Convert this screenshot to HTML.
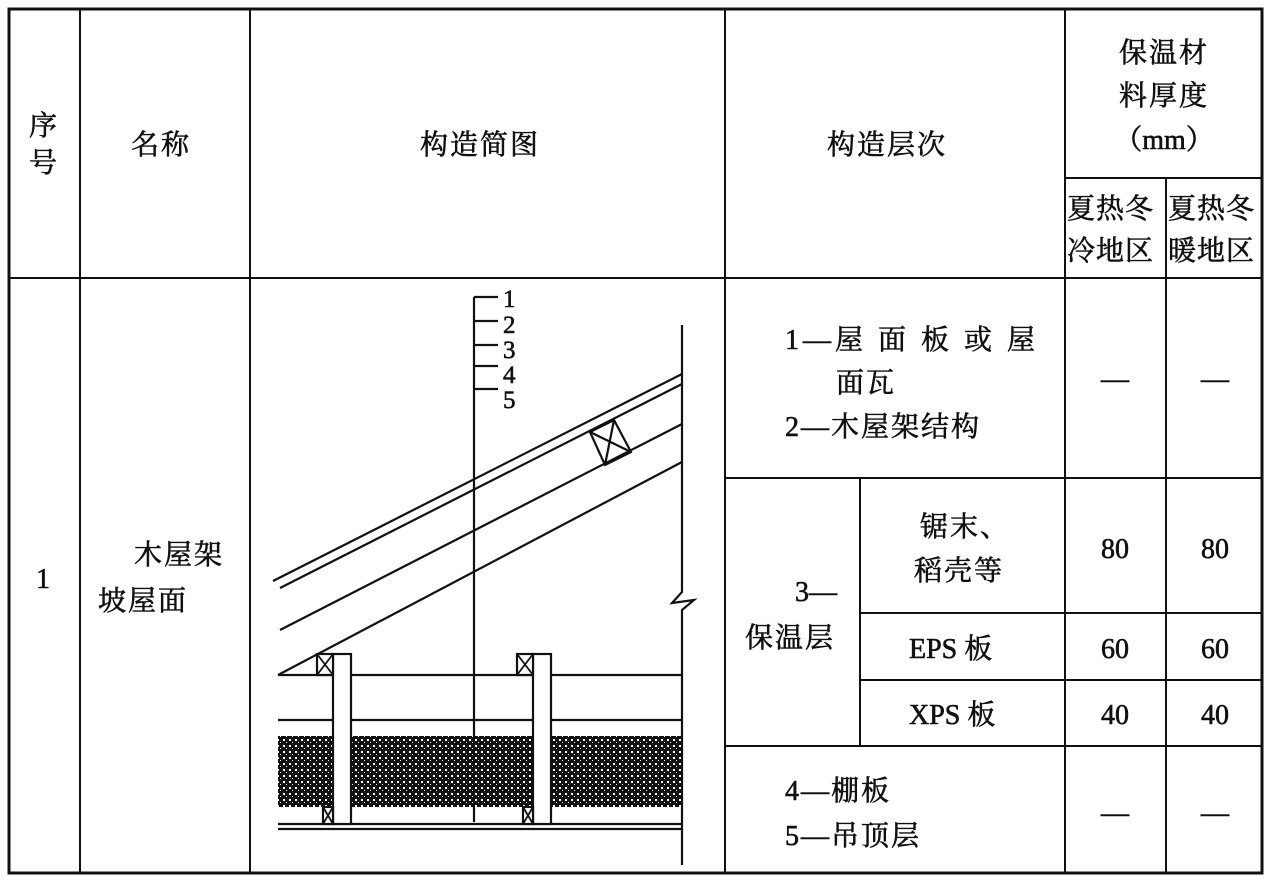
<!DOCTYPE html>
<html><head><meta charset="utf-8"><style>
html,body{margin:0;padding:0;background:#fff;}
svg{display:block;}
text{font-family:"Liberation Serif","Noto Serif CJK SC",serif;font-size:28px;fill:#111;stroke:#111;stroke-width:0.6;}
.n{font-family:"Liberation Serif",serif;}
</style></head><body>
<svg width="1276" height="885" viewBox="0 0 1276 885" xmlns="http://www.w3.org/2000/svg">
<defs>
<pattern id="dots" width="6" height="6" patternUnits="userSpaceOnUse">
<rect width="6" height="6" fill="#111"/>
<rect x="1" y="1" width="2" height="2" fill="#fff"/>
<rect x="4" y="4" width="1" height="1" fill="#fff"/>
</pattern>
</defs>
<g stroke="#111" fill="none">
<rect x="9" y="9" width="1253" height="864" stroke-width="3"/>
<g stroke-width="2">
<line x1="80" y1="9" x2="80" y2="873"/>
<line x1="250" y1="9" x2="250" y2="873"/>
<line x1="725" y1="9" x2="725" y2="873"/>
<line x1="1065" y1="9" x2="1065" y2="873"/>
<line x1="1166" y1="178" x2="1166" y2="873"/>
<line x1="1065" y1="178" x2="1262" y2="178"/>
<line x1="9" y1="278" x2="1262" y2="278"/>
<line x1="725" y1="478" x2="1262" y2="478"/>
<line x1="860" y1="613" x2="1262" y2="613"/>
<line x1="860" y1="680" x2="1262" y2="680"/>
<line x1="725" y1="746" x2="1262" y2="746"/>
<line x1="860" y1="478" x2="860" y2="746"/>
</g>
<g stroke-width="2.2">
<line x1="474" y1="297" x2="474" y2="822"/>
<line x1="474" y1="297" x2="498" y2="297"/>
<line x1="474" y1="321" x2="498" y2="321"/>
<line x1="474" y1="345" x2="498" y2="345"/>
<line x1="474" y1="366" x2="498" y2="366"/>
<line x1="474" y1="389" x2="498" y2="389"/>
<polyline points="682,325 682,592 672,603 694,600 682,610 682,865"/>
<line x1="273" y1="581" x2="682" y2="374"/>
<line x1="280" y1="588" x2="682" y2="384"/>
<line x1="280" y1="630" x2="682" y2="424"/>
<line x1="278" y1="675" x2="682" y2="462"/>
<line x1="278" y1="675" x2="682" y2="675"/>
<line x1="278" y1="720" x2="682" y2="720"/>
<line x1="278" y1="824" x2="682" y2="824"/>
<line x1="278" y1="829" x2="682" y2="829"/>
<polygon points="590,432 614,420 631,452 605,465"/>
<line x1="590" y1="432" x2="631" y2="452"/>
<line x1="614" y1="420" x2="605" y2="465"/>
</g>
<rect x="278" y="736" width="404" height="71" fill="url(#dots)" stroke="none"/>
<g stroke-width="2.2" fill="#fff">
<rect x="333" y="654" width="18" height="170"/>
<rect x="533" y="654" width="18" height="170"/>
<rect x="317" y="654" width="16" height="21"/>
<rect x="517" y="654" width="16" height="21"/>
<rect x="323" y="807" width="10" height="17"/>
<rect x="523" y="807" width="10" height="17"/>
</g>
<g stroke-width="1.8">
<line x1="317" y1="654" x2="333" y2="675"/><line x1="333" y1="654" x2="317" y2="675"/>
<line x1="517" y1="654" x2="533" y2="675"/><line x1="533" y1="654" x2="517" y2="675"/>
<line x1="323" y1="807" x2="333" y2="824"/><line x1="333" y1="807" x2="323" y2="824"/>
<line x1="523" y1="807" x2="533" y2="824"/><line x1="533" y1="807" x2="523" y2="824"/>
</g>
</g>
<text class="n" x="503" y="307" style="font-size:25px">1</text>
<text class="n" x="503" y="333" style="font-size:25px">2</text>
<text class="n" x="503" y="358" style="font-size:25px">3</text>
<text class="n" x="503" y="383" style="font-size:25px">4</text>
<text class="n" x="503" y="408" style="font-size:25px">5</text>
<text x="29" y="135">序</text>
<text x="29" y="172">号</text>
<text x="131" y="154" letter-spacing="2">名称</text>
<text x="420" y="154" letter-spacing="2">构造简图</text>
<text x="827" y="154" letter-spacing="2">构造层次</text>
<text x="1164" y="62" text-anchor="middle" letter-spacing="2">保温材</text>
<text x="1164" y="105" text-anchor="middle" letter-spacing="2">料厚度</text>
<text x="1164" y="149" text-anchor="middle">（mm）</text>
<text x="1067" y="218" letter-spacing="1">夏热冬</text>
<text x="1067" y="260" letter-spacing="1">冷地区</text>
<text x="1168" y="218" letter-spacing="1">夏热冬</text>
<text x="1168" y="260" letter-spacing="1">暖地区</text>
<text class="n" x="36" y="588">1</text>
<text x="134" y="564" letter-spacing="2">木屋架</text>
<text x="98" y="610" letter-spacing="2">坡屋面</text>
<text x="785" y="349" letter-spacing="4">1—屋 面 板 或 屋</text>
<text x="836" y="392" letter-spacing="2">面瓦</text>
<text x="785" y="436" letter-spacing="2">2—木屋架结构</text>
<text x="795" y="601">3—</text>
<text x="745" y="647" letter-spacing="2">保温层</text>
<text x="920" y="536" letter-spacing="2">锯末、</text>
<text x="914" y="580" letter-spacing="2">稻壳等</text>
<text x="909" y="658">EPS 板</text>
<text x="909" y="724">XPS 板</text>
<text class="n" x="1115" y="558" text-anchor="middle">80</text>
<text class="n" x="1215" y="558" text-anchor="middle">80</text>
<text class="n" x="1115" y="658" text-anchor="middle">60</text>
<text class="n" x="1215" y="658" text-anchor="middle">60</text>
<text class="n" x="1115" y="724" text-anchor="middle">40</text>
<text class="n" x="1215" y="724" text-anchor="middle">40</text>
<text x="1115" y="388" text-anchor="middle">—</text>
<text x="1215" y="388" text-anchor="middle">—</text>
<text x="1115" y="822" text-anchor="middle">—</text>
<text x="1215" y="822" text-anchor="middle">—</text>
<text x="785" y="800" letter-spacing="2">4—棚板</text>
<text x="785" y="845" letter-spacing="2">5—吊顶层</text>
</svg>
</body></html>
